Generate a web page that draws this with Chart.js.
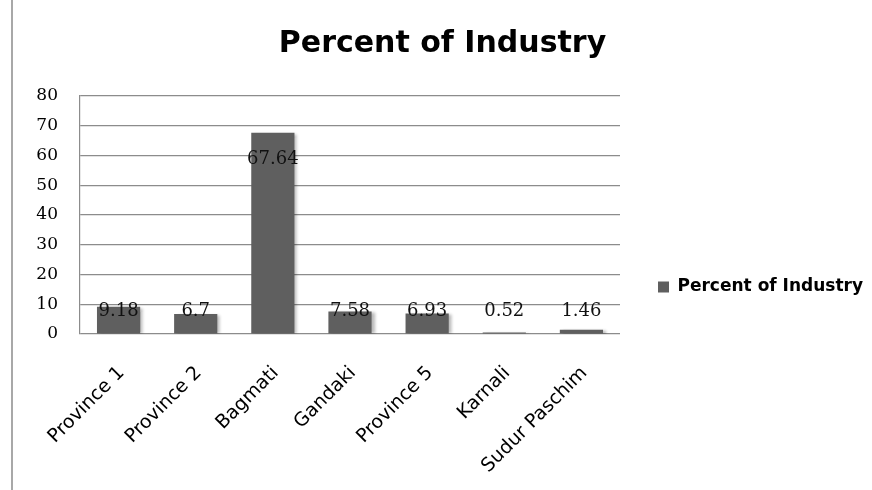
<!DOCTYPE html>
<html>
<head>
<meta charset="utf-8">
<title>Percent of Industry</title>
<script src="https://cdn.jsdelivr.net/npm/chart.js@4.4.1/dist/chart.umd.min.js"></script>
<style>
    html, body { margin: 0; padding: 0; background: #fff; }
    #edge { position: absolute; left: 11px; top: 0; width: 2px; height: 490px; background: #a8a8a8; }
    #box { position: absolute; left: 13px; top: 0; width: 859px; height: 490px; }
</style>
</head>
<body>
<div id="edge"></div>
<div id="box"><canvas id="industryChart"></canvas></div>

<script>
const provinces = ["Province 1", "Province 2", "Bagmati", "Gandaki", "Province 5", "Karnali", "Sudur Paschim"];
const percentOfIndustry = [9.18, 6.7, 67.64, 7.58, 6.93, 0.52, 1.46];
const yTicks = [0, 10, 20, 30, 40, 50, 60, 70, 80];

// legend box gets a fixed width, then is nudged to where the original sits
const legendPlace = {
    id: "legendPlace",
    beforeLayout(chart) {
        const lg = chart.legend;
        if (lg && !lg._fixed) {
            const fit = lg.fit;
            lg.fit = function () {
                fit.call(this);
                this.width = 252;
            };
            lg._fixed = true;
        }
    },
    afterLayout(chart) {
        const lg = chart.legend;
        lg.left += 28;
        lg.right += 28;
        lg.top += 42;
        lg.bottom += 42;
    }
};

// soft shadow to the right of the bars
const barShadow = {
    id: "barShadow",
    beforeDatasetsDraw(chart) {
        const ctx = chart.ctx;
        ctx.save();
        ctx.shadowColor = "rgba(0,0,0,0.28)";
        ctx.shadowBlur = 3;
        ctx.shadowOffsetX = 3;
        ctx.shadowOffsetY = 1;
    },
    afterDatasetsDraw(chart) {
        chart.ctx.restore();
    }
};

// value labels, near the top of each bar
const valueLabels = {
    id: "valueLabels",
    afterDatasetsDraw(chart) {
        const ctx = chart.ctx;
        const y = chart.scales.y;
        const meta = chart.getDatasetMeta(0);
        ctx.save();
        ctx.font = "18px 'DejaVu Serif'";
        ctx.fillStyle = "#111";
        ctx.textAlign = "center";
        ctx.textBaseline = "middle";
        meta.data.forEach(function (bar, i) {
            const v = percentOfIndustry[i];
            const ly = Math.min(y.getPixelForValue(v) + 27, y.getPixelForValue(7.7));
            ctx.fillText(String(v), bar.x, ly);
        });
        ctx.restore();
    }
};

Chart.defaults.font.family = "'DejaVu Sans'";
Chart.defaults.color = "#000";

new Chart(document.getElementById("industryChart").getContext("2d"), {
    type: "bar",
    data: {
        labels: provinces,
        datasets: [{
            label: "Percent of Industry",
            data: percentOfIndustry,
            backgroundColor: "#5f5f5f",
            borderWidth: 0,
            categoryPercentage: 1,
            barPercentage: 0.56
        }]
    },
    options: {
        responsive: true,
        maintainAspectRatio: false,
        animation: false,
        layout: { padding: 0 },
        plugins: {
            title: {
                display: true,
                text: "Percent of Industry",
                font: { size: 30, weight: "bold" },
                color: "#000",
                padding: { top: 26, bottom: 34 }
            },
            legend: {
                position: "right",
                labels: {
                    boxWidth: 11,
                    boxHeight: 11,
                    font: { size: 17, weight: "bold" },
                    color: "#000"
                }
            },
            tooltip: { enabled: false }
        },
        scales: {
            x: {
                grid: { display: false },
                border: { display: false },
                ticks: {
                    maxRotation: 45,
                    minRotation: 45,
                    padding: 20,
                    labelOffset: 3,
                    font: { size: 19 },
                    color: "#000"
                },
                afterFit(scale) { scale.height = 156; }
            },
            y: {
                min: 0,
                max: 80,
                afterBuildTicks(scale) {
                    scale.ticks = yTicks.map(function (v) { return { value: v }; });
                },
                grid: { color: "#8c8c8c", lineWidth: 1.2, drawTicks: false },
                border: { display: true, color: "#8c8c8c", width: 1.2 },
                ticks: {
                    padding: 22,
                    font: { family: "'DejaVu Serif'", size: 17 },
                    color: "#000"
                },
                afterFit(scale) { scale.width = 67; }
            }
        }
    },
    plugins: [legendPlace, barShadow, valueLabels]
});
</script>
</body>
</html>
